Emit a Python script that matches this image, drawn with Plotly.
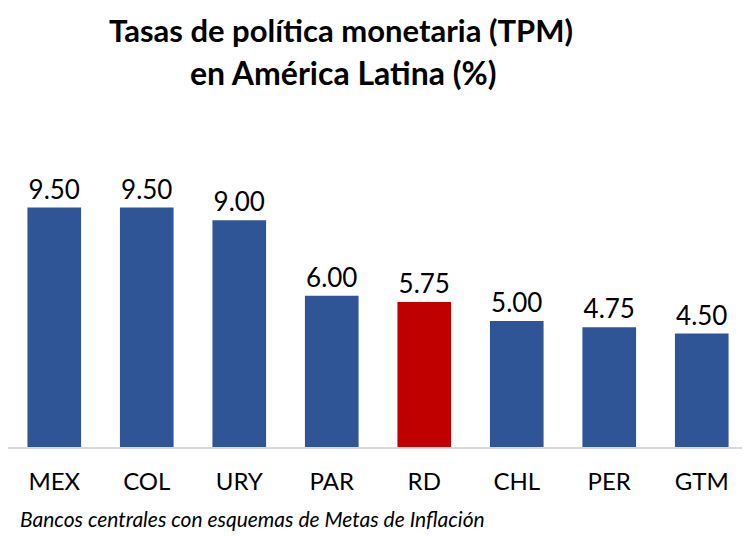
import plotly.graph_objects as go

paises = ["MEX", "COL", "URY", "PAR", "RD", "CHL", "PER", "GTM"]
tasas = [9.50, 9.50, 9.00, 6.00, 5.75, 5.00, 4.75, 4.50]
colores = ["#2F5597" if p != "RD" else "#C00000" for p in paises]

FONT = "Lato, Open Sans, sans-serif"
L, R, T, B = 0, 10, 150, 97
W, H = 750, 536
pw, ph = W - L - R, H - T - B

def px_x(x):
    return (x - L) / pw

def px_y(y):
    return (H - B - y) / ph

fig = go.Figure(go.Bar(
    x=paises, y=tasas,
    marker=dict(color=colores, line=dict(width=0)),
    width=0.58,
    text=[f"{v:.2f}" for v in tasas],
    textposition="outside",
    textfont=dict(family=FONT, size=26, color="#000000"),
    cliponaxis=False,
))

fig.update_layout(
    width=W, height=H,
    margin=dict(l=L, r=R, t=T, b=B, autoexpand=False),
    paper_bgcolor="white", plot_bgcolor="white",
    showlegend=False,
    xaxis=dict(
        showline=True, linecolor="#D9D9D9", linewidth=1.5,
        ticks="", showgrid=False, ticklabelstandoff=12,
        tickfont=dict(family=FONT, size=24, color="#000000"),
    ),
    yaxis=dict(range=[0, ph / 25.2], visible=False, showgrid=False),
    annotations=[
        dict(text="<b>Tasas de política monetaria (TPM)</b>",
             xref="paper", yref="paper", x=px_x(333), y=px_y(22),
             xanchor="center", yanchor="middle", showarrow=False,
             font=dict(family=FONT, size=31, color="#000000")),
        dict(text="<b>en América Latina (%)</b>",
             xref="paper", yref="paper", x=px_x(335), y=px_y(65),
             xanchor="center", yanchor="middle", showarrow=False,
             font=dict(family=FONT, size=32, color="#000000")),
        dict(text="<i>Bancos centrales con esquemas de Metas de Inflación</i>",
             xref="paper", yref="paper", x=px_x(10), y=px_y(510),
             xanchor="left", yanchor="middle", showarrow=False,
             font=dict(family=FONT, size=21, color="#000000")),
    ],
)

fig.write_html("out.html")
